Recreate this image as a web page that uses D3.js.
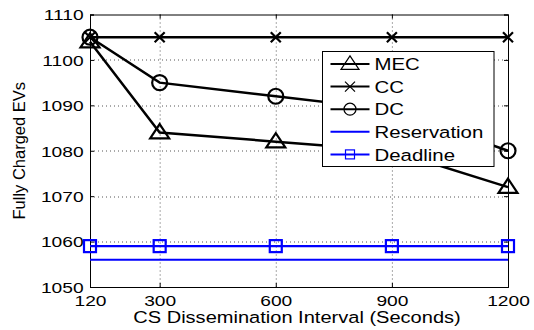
<!DOCTYPE html>
<html>
<head>
<meta charset="utf-8">
<script src="https://cdn.jsdelivr.net/npm/d3@7"></script>
<style>
  body { margin: 0; background: #fff; }
  svg { display: block; font-family: "Liberation Sans", Arial, sans-serif; }
</style>
</head>
<body>
<div id="wrapper"></div>
<script>
// data
const intervals = [120, 300, 600, 900, 1200]
const mecValues = [1104, 1084, 1082, 1080, 1072]
const ccValues = [1105, 1105, 1105, 1105, 1105]
const dcValues = [1105, 1095, 1092, 1089, 1080]
const reservationValues = [1056, 1056, 1056, 1056, 1056]
const deadlineValues = [1059, 1059, 1059, 1059, 1059]
const yTicks = [1050, 1060, 1070, 1080, 1090, 1100, 1110]
const seriesNames = ["MEC", "CC", "DC", "Reservation", "Deadline"]

const series = [
  { name: "MEC", values: mecValues, color: "#000", marker: "triangle" },
  { name: "CC", values: ccValues, color: "#000", marker: "cross" },
  { name: "DC", values: dcValues, color: "#000", marker: "circle" },
  { name: "Reservation", values: reservationValues, color: "#0000ff", marker: "none" },
  { name: "Deadline", values: deadlineValues, color: "#0000ff", marker: "square" },
]

const dims = {
  width: 534,
  height: 330,
  margin: { top: 14.5, right: 26, bottom: 43, left: 90 },
}
dims.boundedWidth = dims.width - dims.margin.left - dims.margin.right
dims.boundedHeight = dims.height - dims.margin.top - dims.margin.bottom

const svg = d3.select("#wrapper")
  .append("svg")
  .attr("width", dims.width)
  .attr("height", dims.height)

const bounds = svg.append("g")
  .attr("transform", `translate(${dims.margin.left},${dims.margin.top})`)

const xScale = d3.scaleLinear()
  .domain([120, 1200])
  .range([0, dims.boundedWidth])

const yScale = d3.scaleLinear()
  .domain([1050, 1110])
  .range([dims.boundedHeight, 0])

// dotted grid
const grid = bounds.append("g")
  .attr("stroke", "#555")
  .attr("stroke-width", 1)
  .attr("stroke-dasharray", "1,3")
grid.selectAll(".gx")
  .data(intervals.slice(1, -1))
  .join("line")
  .attr("x1", d => xScale(d) + 0.5).attr("x2", d => xScale(d) + 0.5)
  .attr("y1", 0).attr("y2", dims.boundedHeight)
grid.selectAll(".gy")
  .data(yTicks.slice(1, -1))
  .join("line")
  .attr("y1", d => Math.round(yScale(d)) + 0.5).attr("y2", d => Math.round(yScale(d)) + 0.5)
  .attr("x1", 0).attr("x2", dims.boundedWidth)

// axes, MATLAB style ticks pointing inward
const xAxis = bounds.append("g")
  .attr("transform", `translate(0,${dims.boundedHeight})`)
  .call(d3.axisBottom(xScale).tickValues(intervals).tickSize(-4).tickPadding(8).tickFormat(d3.format("d")))
const yAxis = bounds.append("g")
  .call(d3.axisLeft(yScale).tickValues(yTicks).tickSize(-4).tickPadding(6).tickFormat(d3.format("d")))
bounds.append("g")
  .attr("transform", `translate(${dims.boundedWidth},0)`)
  .call(d3.axisRight(yScale).tickValues(yTicks).tickSize(-4).tickFormat(""))
bounds.append("g")
  .call(d3.axisTop(xScale).tickValues(intervals).tickSize(-4).tickFormat(""))

bounds.selectAll(".domain").attr("stroke", "#000")
bounds.selectAll(".tick line").attr("stroke", "#000")

xAxis.selectAll("text")
  .attr("fill", "#000")
  .style("font-size", "15px")
  .attr("transform", "scale(1.28,1)")
  .attr("dy", "0.71em")
yAxis.selectAll("text")
  .attr("fill", "#000")
  .style("font-size", "15px")
  .attr("transform", "scale(1.28,1)")
  .attr("x", -5)
  .attr("dy", "0.36em")

// lines
const lineGen = values => d3.line()
  .x((d, i) => xScale(intervals[i]))
  .y(d => yScale(d))(values)

bounds.append("g").selectAll("path")
  .data(series)
  .join("path")
  .attr("d", d => lineGen(d.values))
  .attr("fill", "none")
  .attr("stroke", d => d.color)
  .attr("stroke-width", d => d.color === "#000" ? 2.5 : 2.2)

function drawMarker(g, type, color, size, sw) {
  if (type === "triangle") {
    const h = size * 0.75
    g.append("path")
      .attr("d", `M0,${-h * 0.6}L${size / 2},${h * 0.4}L${-size / 2},${h * 0.4}Z`)
      .attr("fill", "none").attr("stroke", color).attr("stroke-width", sw)
  } else if (type === "cross") {
    const s = size / 2
    g.append("path")
      .attr("d", `M${-s},${-s}L${s},${s}M${-s},${s}L${s},${-s}`)
      .attr("stroke", color).attr("stroke-width", sw)
  } else if (type === "circle") {
    g.append("circle").attr("r", size / 2)
      .attr("fill", "none").attr("stroke", color).attr("stroke-width", sw)
  } else if (type === "square") {
    g.append("rect")
      .attr("x", -size / 2).attr("y", -size / 2)
      .attr("width", size).attr("height", size)
      .attr("fill", "none").attr("stroke", color).attr("stroke-width", sw)
  }
}

const markerSize = { triangle: 19, cross: 10, circle: 15, square: 12 }

series.forEach(s => {
  if (s.marker === "none") return
  s.values.forEach((v, i) => {
    const g = bounds.append("g")
      .attr("transform", `translate(${xScale(intervals[i])},${yScale(v)})`)
    drawMarker(g, s.marker, s.color, markerSize[s.marker], 2.2)
  })
})

// legend
const legend = svg.append("g").attr("transform", "translate(322.5,51.5)")
legend.append("rect")
  .attr("width", 171.5).attr("height", 115)
  .attr("fill", "#fff").attr("stroke", "#000").attr("stroke-width", 1)

const legendMarkerSize = { triangle: 18, cross: 10, circle: 12, square: 9 }
seriesNames.forEach((name, i) => {
  const s = series.find(d => d.name === name)
  const row = legend.append("g").attr("transform", `translate(0,${12.5 + i * 22.6})`)
  row.append("line")
    .attr("x1", 8).attr("x2", 47)
    .attr("stroke", s.color).attr("stroke-width", 2)
  if (s.marker !== "none") {
    const g = row.append("g").attr("transform", "translate(27.5,0)")
    drawMarker(g, s.marker, s.color, legendMarkerSize[s.marker], 1.2)
  }
  row.append("text")
    .attr("transform", "translate(52,0) scale(1.2,1)")
    .attr("dy", "0.36em")
    .style("font-size", "17px")
    .text(name)
})

// axis labels
svg.append("text")
  .attr("transform", `translate(${dims.margin.left + dims.boundedWidth / 2 - 2},323) scale(1.18,1)`)
  .attr("text-anchor", "middle")
  .style("font-size", "17px")
  .text("CS Dissemination Interval (Seconds)")

svg.append("text")
  .attr("transform", `translate(25,${dims.margin.top + dims.boundedHeight / 2}) rotate(-90)`)
  .attr("text-anchor", "middle")
  .style("font-size", "16.5px")
  .text("Fully Charged EVs")
</script>
</body>
</html>
